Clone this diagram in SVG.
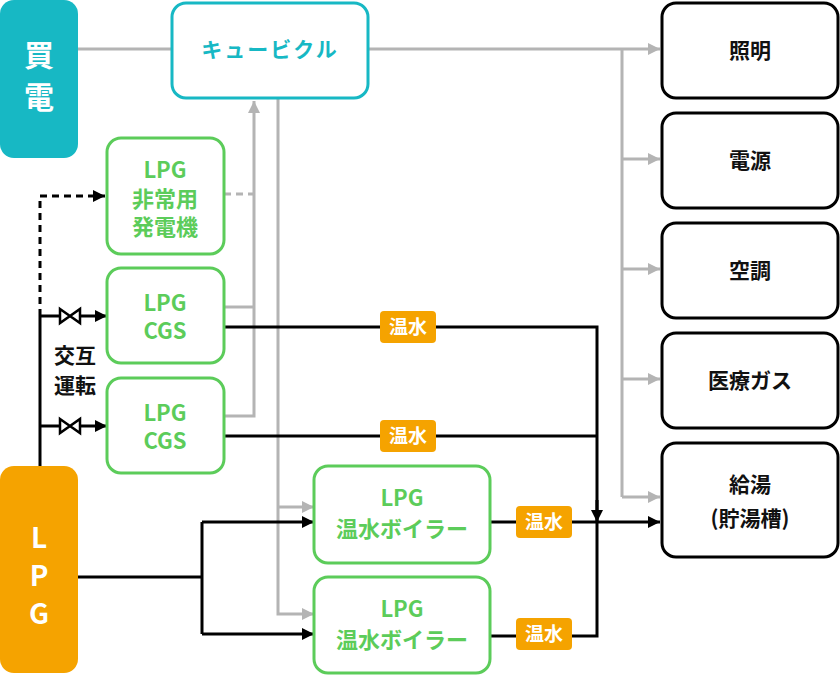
<svg xmlns="http://www.w3.org/2000/svg" width="840" height="676" viewBox="0 0 840 676">
<defs>
<style>
text{font-family:"Noto Sans CJK JP","Noto Sans",sans-serif;font-weight:bold;text-anchor:middle}
.g{fill:#fff;stroke:#5ccc5a;stroke-width:3}
.gt{fill:#5ccc5a;font-size:22px}
.b{fill:#fff;stroke:#000;stroke-width:3}
.bt{fill:#111;font-size:21px}
.gl{stroke:#b4b4b4;stroke-width:3;fill:none}
.kl{stroke:#000;stroke-width:3;fill:none}
.tag{fill:#f5a300}
.tt{fill:#fff;font-size:19px}
</style>
<marker id="ag" viewBox="0 0 10 10" refX="10" refY="5" markerWidth="12" markerHeight="12" markerUnits="userSpaceOnUse" orient="auto"><path d="M0,0L10,5L0,10z" fill="#b4b4b4"/></marker>
<marker id="ak" viewBox="0 0 10 10" refX="10" refY="5" markerWidth="12" markerHeight="12" markerUnits="userSpaceOnUse" orient="auto"><path d="M0,0L10,5L0,10z" fill="#000"/></marker>
</defs>
<g id="connectors">
<path class="gl" d="M78,49H172"/>
<path class="gl" d="M368,49H660" marker-end="url(#ag)"/>
<path class="gl" d="M622,49V497"/>
<path class="gl" d="M622,159H660" marker-end="url(#ag)"/>
<path class="gl" d="M622,269H660" marker-end="url(#ag)"/>
<path class="gl" d="M622,379H660" marker-end="url(#ag)"/>
<path class="gl" d="M622,497H660" marker-end="url(#ag)"/>
<path class="gl" d="M224,416H254V101" marker-end="url(#ag)"/>
<path class="gl" d="M224,307H254"/>
<path class="gl" d="M224,194H254" stroke-dasharray="7,5"/>
<path class="gl" d="M278,98V614H314" marker-end="url(#ag)"/>
<path class="gl" d="M278,507H314" marker-end="url(#ag)"/>
<path class="kl" d="M40,466V316"/>
<path class="kl" d="M40,316V196H105" stroke-dasharray="7,5" marker-end="url(#ak)"/>
<path class="kl" d="M40,316H60M80,316H107" marker-end="url(#ak)"/>
<path class="kl" d="M40,426H60M80,426H107" marker-end="url(#ak)"/>
<path d="M60,309L80,323V309L60,323Z" fill="#fff" stroke="#000" stroke-width="2.5"/>
<path d="M60,419L80,433V419L60,433Z" fill="#fff" stroke="#000" stroke-width="2.5"/>
<path class="kl" d="M224,327H597V636H490"/>
<path class="kl" d="M224,436H597"/>
<path class="kl" d="M597,500V522" marker-end="url(#ak)"/>
<path class="kl" d="M490,522H660" marker-end="url(#ak)"/>
<path class="kl" d="M78,577H202"/>
<path class="kl" d="M202,522V634"/>
<path class="kl" d="M202,522H314" marker-end="url(#ak)"/>
<path class="kl" d="M202,634H314" marker-end="url(#ak)"/>
<rect class="tag" x="380" y="311" width="56" height="32" rx="4"/><text class="tt" x="408" y="334">温水</text>
<rect class="tag" x="380" y="420" width="56" height="32" rx="4"/><text class="tt" x="408" y="443">温水</text>
<rect class="tag" x="516" y="506" width="56" height="32" rx="4"/><text class="tt" x="544" y="529">温水</text>
<rect class="tag" x="516" y="618" width="56" height="32" rx="4"/><text class="tt" x="544" y="641">温水</text>
<text class="bt" x="75" y="363">交互</text>
<text class="bt" x="75" y="393">運転</text>
</g>
<g id="kaiden"><rect x="0" y="0" width="78" height="158" rx="14" fill="#17b8c4"/><text x="39" y="66" fill="#fff" font-size="30">買</text><text x="39" y="108" fill="#fff" font-size="30">電</text></g>
<g id="lpg"><rect x="0" y="466" width="78" height="207" rx="14" fill="#f5a300"/><text x="39" y="548" fill="#fff" font-size="28">L</text><text x="39" y="586" fill="#fff" font-size="28">P</text><text x="39" y="624" fill="#fff" font-size="28">G</text></g>
<g id="cubicle"><rect x="172" y="3" width="196" height="95" rx="14" fill="#fff" stroke="#17b8c4" stroke-width="3"/><text x="270" y="57" fill="#17b8c4" font-size="21" letter-spacing="2">キュービクル</text></g>
<g id="gen"><rect class="g" x="107" y="138" width="117" height="116" rx="14"/><text class="gt" x="165" y="178">LPG</text><text class="gt" x="165" y="207">非常用</text><text class="gt" x="165" y="235">発電機</text></g>
<g id="cgs1"><rect class="g" x="107" y="268" width="117" height="95" rx="14"/><text class="gt" x="165" y="311">LPG</text><text class="gt" x="165" y="339">CGS</text></g>
<g id="cgs2"><rect class="g" x="107" y="378" width="117" height="95" rx="14"/><text class="gt" x="165" y="421">LPG</text><text class="gt" x="165" y="449">CGS</text></g>
<g id="boiler1"><rect class="g" x="314" y="466" width="176" height="97" rx="14"/><text class="gt" x="402" y="506">LPG</text><text class="gt" x="402" y="537">温水ボイラー</text></g>
<g id="boiler2"><rect class="g" x="314" y="577" width="176" height="96" rx="14"/><text class="gt" x="402" y="617">LPG</text><text class="gt" x="402" y="648">温水ボイラー</text></g>
<g id="shoumei"><rect class="b" x="662" y="3" width="176" height="95" rx="14"/><text class="bt" x="750" y="58">照明</text></g>
<g id="dengen"><rect class="b" x="662" y="113" width="176" height="95" rx="14"/><text class="bt" x="750" y="168">電源</text></g>
<g id="kuchou"><rect class="b" x="662" y="223" width="176" height="95" rx="14"/><text class="bt" x="750" y="278">空調</text></g>
<g id="iryou"><rect class="b" x="662" y="333" width="176" height="95" rx="14"/><text class="bt" x="750" y="388">医療ガス</text></g>
<g id="kyuuto"><rect class="b" x="662" y="443" width="176" height="114" rx="14"/><text class="bt" x="750" y="492">給湯</text><text class="bt" x="750" y="526">(貯湯槽)</text></g>
</svg>
